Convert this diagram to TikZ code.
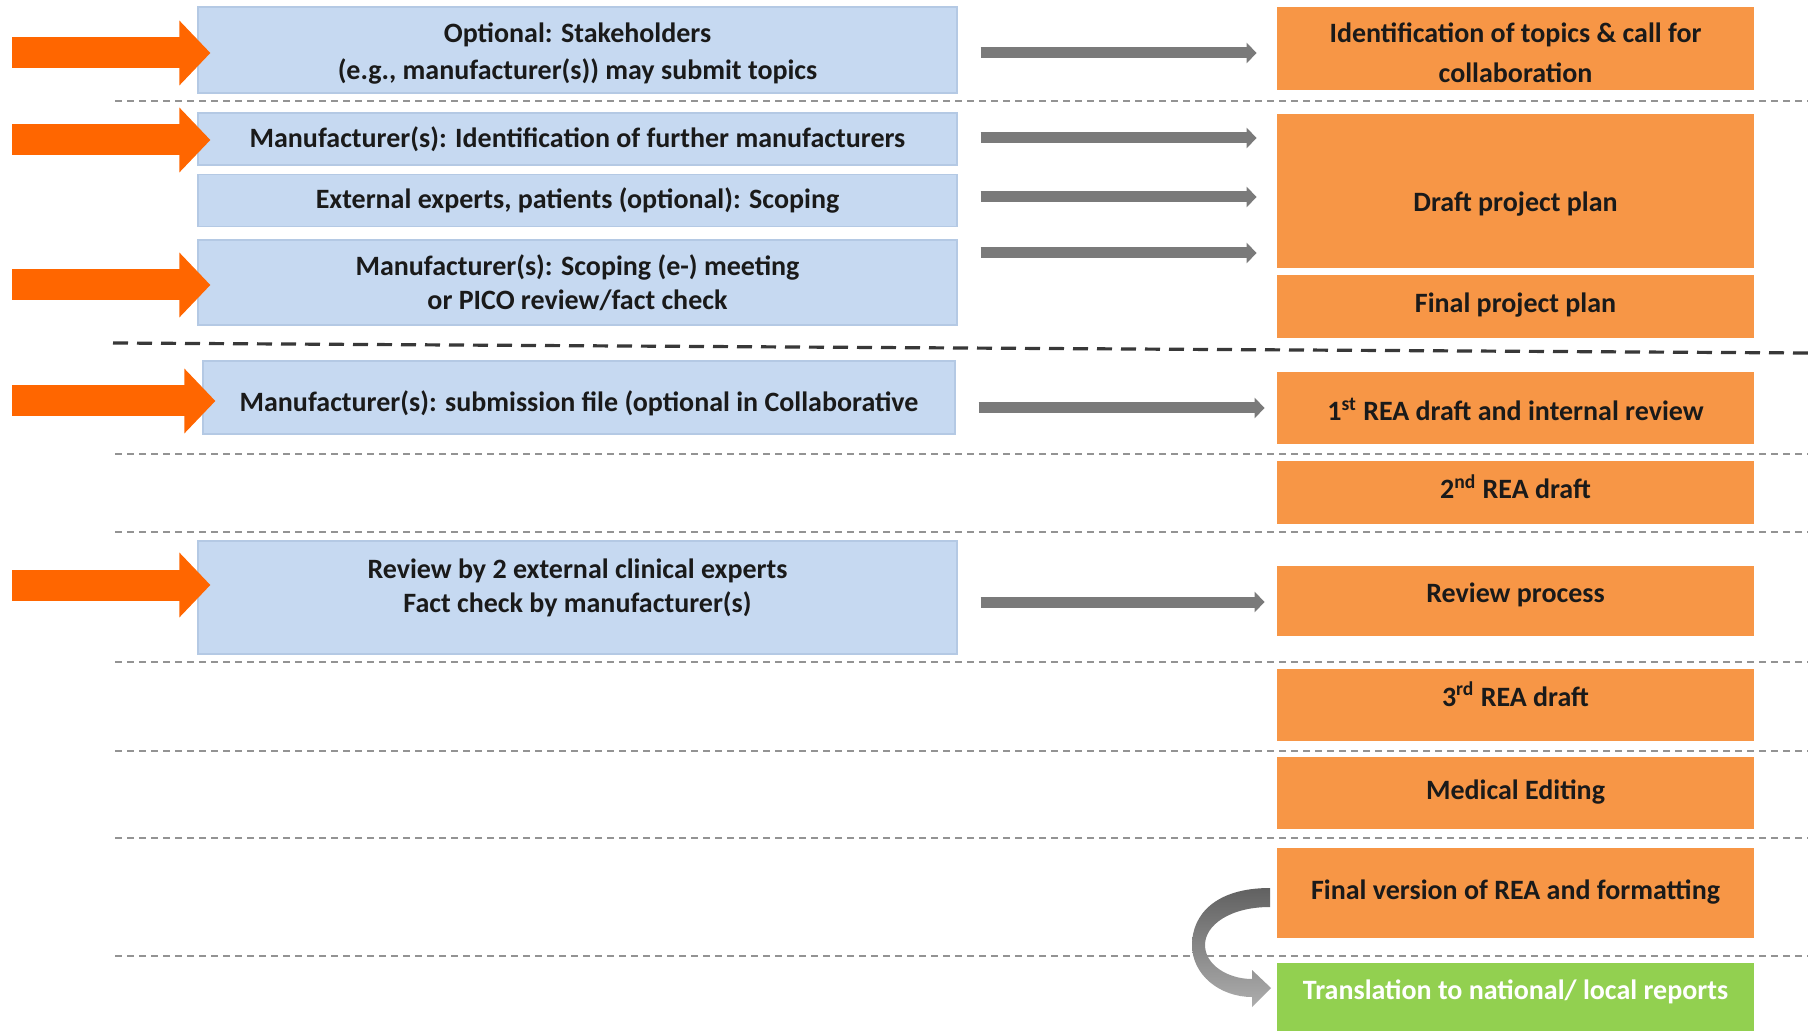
\documentclass[tikz,border=0pt]{standalone}
\usepackage{fontspec}
\setmainfont{Carlito}
\usetikzlibrary{arrows.meta}
\usetikzlibrary{positioning}

\definecolor{bluefill}{RGB}{198,217,241}
\definecolor{blueline}{RGB}{180,201,228}
\definecolor{boxorange}{RGB}{247,150,70}
\definecolor{boxgreen}{RGB}{146,208,80}
\definecolor{arroworange}{RGB}{255,102,0}
\definecolor{arrowgray}{RGB}{122,122,122}
\definecolor{textdark}{RGB}{26,26,26}

\begin{document}
\begin{tikzpicture}[x=0.5pt,y=-0.5pt,
  every node/.style={font=\bfseries\fontsize{14}{17}\selectfont, text=textdark, align=center, inner sep=0pt},
  leftbox/.style={fill=bluefill, draw=blueline, line width=0.6pt, minimum width=379.5pt},
  rightbox/.style={fill=boxorange, minimum width=238.5pt},
  greenbox/.style={fill=boxgreen, minimum width=238.5pt},
  oneline/.style={text height=8.5pt, text depth=2.5pt},
  sepline/.style={draw=gray!85, line width=1.2pt, dash pattern=on 3.5pt off 2.5pt},
  phaseline/.style={draw=black!78, line width=1.6pt, dash pattern=on 7.5pt off 4.5pt},
  inarrow/.style={draw=arroworange, line width=15.5pt, -{Triangle[length=15.5pt,width=31.5pt]}},
  flowarrow/.style={draw=arrowgray, line width=5.5pt, shorten <=11.5pt, -{Triangle[length=5pt,width=10pt]}},
]
\fill[white] (0,0) rectangle (1808,1031);
\useasboundingbox (0,0) rectangle (1808,1031);

% separators between the steps
\foreach \y in {101,454,532,662,751,838,956}
  \draw[sepline] (115,\y) -- (1808,\y);
\draw[phaseline] (113,343) -- (1808,353);

% who is involved
\node (b1) [leftbox, minimum height=43pt] at (577.5,50) {};
\node (b1t) at ([yshift=-1.75pt]b1.center) {Optional: Stakeholders\\[1.5pt](e.g., manufacturer(s)) may submit topics};
\node (b2) [leftbox, minimum height=26pt] at (577.5,139) {Manufacturer(s): Identification of further manufacturers};
\node (b3) [leftbox, minimum height=26pt, below=4pt of b2] {External experts, patients (optional): Scoping};
\node (b4) [leftbox, minimum height=42.5pt] at (577.5,282.5) {Manufacturer(s): Scoping (e-) meeting\\or PICO review/fact check};
\node (b5) [leftbox, minimum width=376pt, minimum height=36.5pt] at (579,397.5) {};
\node (b5t) at ([yshift=-3pt]b5.center) {Manufacturer(s): submission file (optional in Collaborative};
\node (b6) [leftbox, minimum height=56.5pt] at (577.5,597.5) {};
\node (b6t) at ([yshift=4.75pt]b6.center) {Review by 2 external clinical experts\\Fact check by manufacturer(s)};

% steps of the assessment
\node (o1) [rightbox, minimum height=41.5pt] at (1515.5,48.5) {};
\node (o1t) at ([yshift=-2pt]o1.center) {Identification of topics \& call for\\[3pt]collaboration};
\node (o2) [rightbox, minimum height=77pt] at (1515.5,191) {};
\node (o2t) at ([yshift=-6.5pt]o2.center) {Draft project plan};
\node (o3) [rightbox, oneline, minimum height=31.5pt, below=3pt of o2] {Final project plan};
\node (o4) [rightbox, minimum height=36pt] at (1515.5,408) {};
\node (o4t) [oneline] at ([yshift=-3.5pt]o4.center) {1\textsuperscript{st} REA draft and internal review};
\node (o5) [rightbox, oneline, minimum height=31.5pt] at (1515.5,492.5) {2\textsuperscript{nd} REA draft};
\node (o6) [rightbox, minimum height=35pt] at (1515.5,601) {};
\node (o6t) [oneline] at ([yshift=2.3pt]o6.center) {Review process};
\node (o7) [rightbox, minimum height=36pt] at (1515.5,705) {};
\node (o7t) [oneline] at ([yshift=2.3pt]o7.center) {3\textsuperscript{rd} REA draft};
\node (o8) [rightbox, oneline, minimum height=36pt] at (1515.5,793) {Medical Editing};
\node (o9) [rightbox, oneline, minimum height=45pt] at (1515.5,893) {Final version of REA and formatting};
\node (g1) [greenbox, minimum height=34pt] at (1515.5,997) {};
\node (g1t) [oneline, text=white] at ([yshift=1.75pt]g1.center) {Translation to national/ local reports};

% input arrows
\foreach \to/\y [count=\i] in {b1/53, b2/140, b4/285, b5/401, b6/585} {
  \coordinate (src\i) at (12,\y);
  \draw[inarrow, shorten >=-6.5pt] (src\i) -- (src\i -| \to.west);
}

\foreach \from/\to/\y/\gap in {b1/o1/53/10pt, b2/o2/138/10pt, b3/o2/197/10pt, b4/o2/253/10pt, b5/o4/408/6pt, b6/o6/602/6pt}
  \draw[flowarrow, shorten >=\gap] (\from.east |- 0,\y) -- (\to.west |- 0,\y);

% o9 -> g1
\shade[top color=black!62, bottom color=black!32] (1270,888) .. controls (1215,888) and (1192,915) .. (1192,945)
  .. controls (1192,975) and (1220,997) .. (1252,997) -- (1252,1007) -- (1271,988) -- (1252,970) -- (1252,979)
  .. controls (1228,979) and (1205,965) .. (1205,945) .. controls (1205,925) and (1230,907) .. (1270,907) -- cycle;
\end{tikzpicture}
\end{document}
